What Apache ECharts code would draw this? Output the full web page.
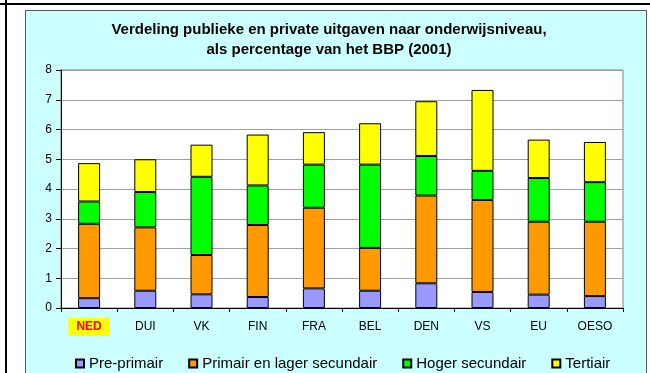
<!DOCTYPE html>
<html>
<head>
<meta charset="utf-8">
<script src="https://cdn.jsdelivr.net/npm/echarts@6/dist/echarts.min.js"></script>
<style>
  html, body { margin: 0; padding: 0; background: #ffffff; }
  #chart { width: 650px; height: 373px; }
</style>
</head>
<body>
<div id="chart"></div>
<script>
// Landen / groepen
const categories = ['NED', 'DUI', 'VK', 'FIN', 'FRA', 'BEL', 'DEN', 'VS', 'EU', 'OESO'];

// Uitgaven per onderwijsniveau, % van het BBP (2001)
const prePrimair = [0.33, 0.58, 0.46, 0.37, 0.66, 0.58, 0.83, 0.54, 0.45, 0.40];
const primairLagerSec = [2.50, 2.13, 1.32, 2.42, 2.71, 1.44, 2.95, 3.09, 2.45, 2.50];
const hogerSec = [0.75, 1.19, 2.63, 1.33, 1.45, 2.80, 1.33, 0.98, 1.47, 1.33];
const tertiair = [1.29, 1.10, 1.08, 1.71, 1.09, 1.39, 1.84, 2.72, 1.29, 1.35];

const seriesNames = ['Pre-primair', 'Primair en lager secundair', 'Hoger secundair', 'Tertiair'];
const seriesColors = ['#9999FF', '#FF9900', '#00FF00', '#FFFF00'];
const seriesData = [prePrimair, primairLagerSec, hogerSec, tertiair];

const FONT = '"Liberation Sans", Arial, sans-serif';

const chart = echarts.init(document.getElementById('chart'), null, { renderer: 'canvas' });

chart.setOption({
  animation: false,
  backgroundColor: '#ffffff',
  textStyle: { fontFamily: FONT },
  graphic: {
    elements: [
      {
        type: 'rect', z: -10,
        shape: { x: 25.5, y: 10.5, width: 621, height: 370 },
        style: { fill: '#CCFFFF', stroke: '#555555', lineWidth: 1 }
      },
      {
        type: 'rect', z: -10,
        shape: { x: 0, y: 3, width: 650, height: 2 },
        style: { fill: '#000000' }
      },
      {
        type: 'rect', z: -10,
        shape: { x: 5, y: 0, width: 2, height: 373 },
        style: { fill: '#000000' }
      }
    ]
  },
  title: {
    text: 'Verdeling publieke en private uitgaven naar onderwijsniveau,\nals percentage van het BBP (2001)',
    left: 329,
    textAlign: 'center',
    top: 20,
    padding: 0,
    textStyle: {
      fontFamily: FONT,
      fontSize: 15,
      fontWeight: 'bold',
      color: '#000000',
      lineHeight: 20
    }
  },
  legend: {
    data: seriesNames,
    left: 75,
    top: 356,
    padding: 0,
    itemWidth: 8,
    itemHeight: 8,
    itemGap: 25,
    icon: 'rect',
    textStyle: { fontFamily: FONT, fontSize: 15, color: '#000000' }
  },
  grid: {
    left: 61,
    right: 27,
    top: 70,
    bottom: 65,
    show: true,
    backgroundColor: '#ffffff',
    borderColor: '#808080',
    borderWidth: 1
  },
  xAxis: {
    type: 'category',
    data: categories,
    axisLine: { lineStyle: { color: '#000000', width: 1 } },
    axisTick: { show: true, length: 4, lineStyle: { color: '#000000' } },
    axisLabel: {
      interval: 0,
      margin: 10,
      fontSize: 12,
      color: '#000000',
      formatter: function (v, i) {
        return i === 0 ? '{ned|' + v + '}' : '{n|' + v + '}';
      },
      rich: {
        ned: {
          color: '#FF0000',
          fontWeight: 'bold',
          fontSize: 12,
          fontFamily: FONT,
          backgroundColor: '#FFFF00',
          padding: [3, 8, 3, 8]
        },
        n: {
          color: '#000000',
          fontSize: 12,
          fontFamily: FONT,
          padding: [3, 0, 3, 0]
        }
      }
    }
  },
  yAxis: {
    type: 'value',
    min: 0,
    max: 8,
    interval: 1,
    axisLine: { show: true, lineStyle: { color: '#000000', width: 1 } },
    axisTick: { show: true, length: 5, lineStyle: { color: '#000000' } },
    axisLabel: { margin: 9, fontSize: 12, color: '#000000', fontFamily: FONT },
    splitLine: { show: true, lineStyle: { color: '#A0A0A0', width: 1 } }
  },
  series: seriesData.map(function (d, k) {
    return {
      name: seriesNames[k],
      type: 'bar',
      stack: 'totaal',
      data: d,
      barWidth: 22,
      itemStyle: {
        color: seriesColors[k],
        borderColor: '#000000',
        borderWidth: 1
      }
    };
  })
});
</script>
</body>
</html>
